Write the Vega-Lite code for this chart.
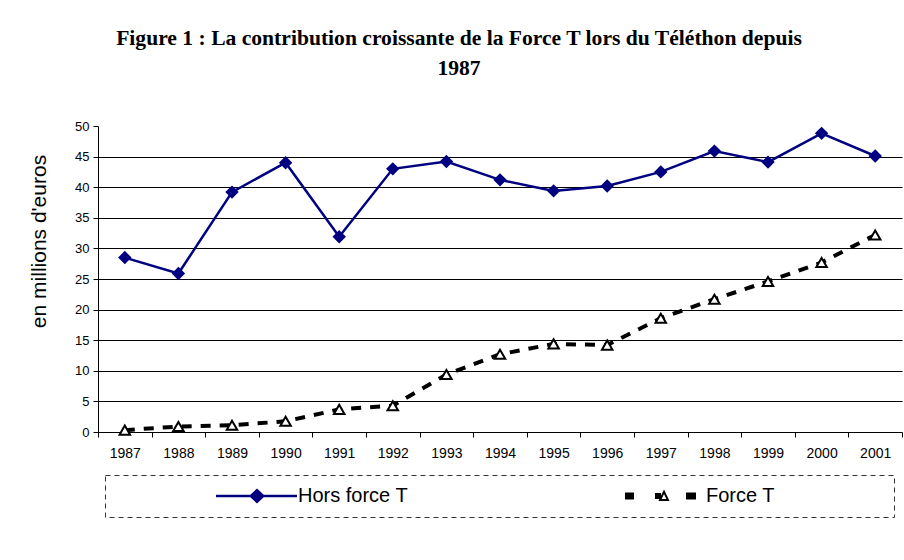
{
  "$schema": "https://vega.github.io/schema/vega-lite/v6.json",
  "autosize": {"type": "none"},
  "padding": {"left": 98, "top": 126, "right": 2, "bottom": 128},
  "width": 804,
  "height": 306,
  "background": "white",
  "title": {
    "text": ["Figure 1 : La contribution croissante de la Force T lors du Téléthon depuis", "1987"],
    "font": "Liberation Serif",
    "fontSize": 21.6,
    "fontWeight": "bold",
    "lineHeight": 30,
    "color": "black",
    "anchor": "middle",
    "frame": "group",
    "dx": -41,
    "offset": 40
  },
  "data": {
    "values": [
      {"year": "1987", "series": "Hors force T", "value": 28.5},
      {"year": "1988", "series": "Hors force T", "value": 25.9},
      {"year": "1989", "series": "Hors force T", "value": 39.2},
      {"year": "1990", "series": "Hors force T", "value": 44.0},
      {"year": "1991", "series": "Hors force T", "value": 31.9},
      {"year": "1992", "series": "Hors force T", "value": 43.0},
      {"year": "1993", "series": "Hors force T", "value": 44.2},
      {"year": "1994", "series": "Hors force T", "value": 41.2},
      {"year": "1995", "series": "Hors force T", "value": 39.4},
      {"year": "1996", "series": "Hors force T", "value": 40.2},
      {"year": "1997", "series": "Hors force T", "value": 42.5},
      {"year": "1998", "series": "Hors force T", "value": 45.9},
      {"year": "1999", "series": "Hors force T", "value": 44.1},
      {"year": "2000", "series": "Hors force T", "value": 48.8},
      {"year": "2001", "series": "Hors force T", "value": 45.1},
      {"year": "1987", "series": "Force T", "value": 0.3},
      {"year": "1988", "series": "Force T", "value": 0.9},
      {"year": "1989", "series": "Force T", "value": 1.1},
      {"year": "1990", "series": "Force T", "value": 1.75},
      {"year": "1991", "series": "Force T", "value": 3.7},
      {"year": "1992", "series": "Force T", "value": 4.3},
      {"year": "1993", "series": "Force T", "value": 9.4},
      {"year": "1994", "series": "Force T", "value": 12.7},
      {"year": "1995", "series": "Force T", "value": 14.4},
      {"year": "1996", "series": "Force T", "value": 14.2},
      {"year": "1997", "series": "Force T", "value": 18.6},
      {"year": "1998", "series": "Force T", "value": 21.7},
      {"year": "1999", "series": "Force T", "value": 24.6},
      {"year": "2000", "series": "Force T", "value": 27.7},
      {"year": "2001", "series": "Force T", "value": 32.2}
    ]
  },
  "encoding": {
    "x": {
      "field": "year",
      "type": "ordinal",
      "sort": null,
      "scale": {"type": "band", "paddingInner": 0, "paddingOuter": 0},
      "axis": {
        "title": null,
        "labelAngle": 0,
        "tickBand": "extent",
        "labelFont": "Liberation Sans",
        "labelFontSize": 14,
        "labelColor": "black",
        "labelPadding": 9,
        "tickSize": 5,
        "tickColor": "black",
        "domainColor": "black",
        "grid": false
      }
    },
    "y": {
      "field": "value",
      "type": "quantitative",
      "scale": {"domain": [0, 50], "nice": false, "zero": true},
      "axis": {
        "values": [0, 5, 10, 15, 20, 25, 30, 35, 40, 45, 50],
        "title": "en millions d'euros",
        "titleFont": "Liberation Sans",
        "titleFontSize": 21,
        "titleFontWeight": "normal",
        "titleColor": "black",
        "titleAngle": -90,
        "titleX": -59,
        "titleY": 115,
        "titleAlign": "center",
        "titleBaseline": "middle",
        "labelFont": "Liberation Sans",
        "labelFontSize": 13,
        "labelColor": "black",
        "labelPadding": 4,
        "tickSize": 5,
        "tickColor": "black",
        "domainColor": "black",
        "grid": true,
        "gridColor": "black",
        "gridWidth": 1,
        "gridOpacity": {"condition": {"test": "datum.value === 50 || datum.value === 0", "value": 0}, "value": 1}
      }
    }
  },
  "layer": [
    {
      "transform": [{"filter": "datum.series === 'Force T'"}],
      "mark": {"type": "line", "color": "black", "strokeWidth": 4, "strokeDash": [10, 9]},
      "encoding": {}
    },
    {
      "transform": [{"filter": "datum.series === 'Hors force T'"}],
      "mark": {"type": "line", "strokeWidth": 2.5},
      "encoding": {
        "color": {
          "field": "series",
          "type": "nominal",
          "scale": {"domain": ["Hors force T", "Force T"], "range": ["#000080", "#000000"]},
          "legend": {
            "orient": "none",
            "legendX": 7,
            "legendY": 349,
            "direction": "horizontal",
            "title": null,
            "symbolSize": 100,
            "labelOffset": 162,
            "columnPadding": 115,
            "padding": 11,
            "labelFont": "Liberation Sans",
            "labelFontSize": 20,
            "labelColor": "black",
            "labelLimit": 400,
            "strokeColor": "#333333",
            "encode": {
              "legend": {"update": {"strokeDash": {"value": [5, 4]}, "strokeWidth": {"value": 1}}},
              "symbols": {
                "update": {
                  "shape": {"signal": "datum.value === 'Hors force T' ? 'M-1,0M18,-0.23H34.2V0.23H18ZM26.2,-1.5L27.8,0L26.2,1.5L24.6,0Z' : 'M-1,0M18.2,-0.7H20V0.7H18.2ZM24.2,-0.6H25.4V0.6H24.2ZM30.4,-0.7H32.4V0.7H30.4ZM26,-1.3L27.1,1L24.9,1ZM26,-0.38L25.53,0.6L26.47,0.6ZM69.8,0'"},
                  "fill": {"signal": "datum.value === 'Hors force T' ? '#000080' : '#000000'"},
                  "stroke": {"value": "transparent"},
                  "strokeWidth": {"value": 0},
                  "opacity": {"value": 1}
                }
              }
            }
          }
        }
      }
    },
    {
      "transform": [{"filter": "datum.series === 'Hors force T'"}],
      "mark": {"type": "point", "shape": "diamond", "filled": true, "color": "#000080", "size": 180, "opacity": 1},
      "encoding": {}
    },
    {
      "transform": [{"filter": "datum.series === 'Force T'"}],
      "mark": {"type": "point", "shape": "triangle-up", "filled": true, "fill": "white", "stroke": "black", "strokeWidth": 2, "size": 110, "opacity": 1},
      "encoding": {}
    }
  ],
  "config": {
    "view": {"stroke": null},
    "axis": {"domainWidth": 1, "tickWidth": 1}
  }
}
